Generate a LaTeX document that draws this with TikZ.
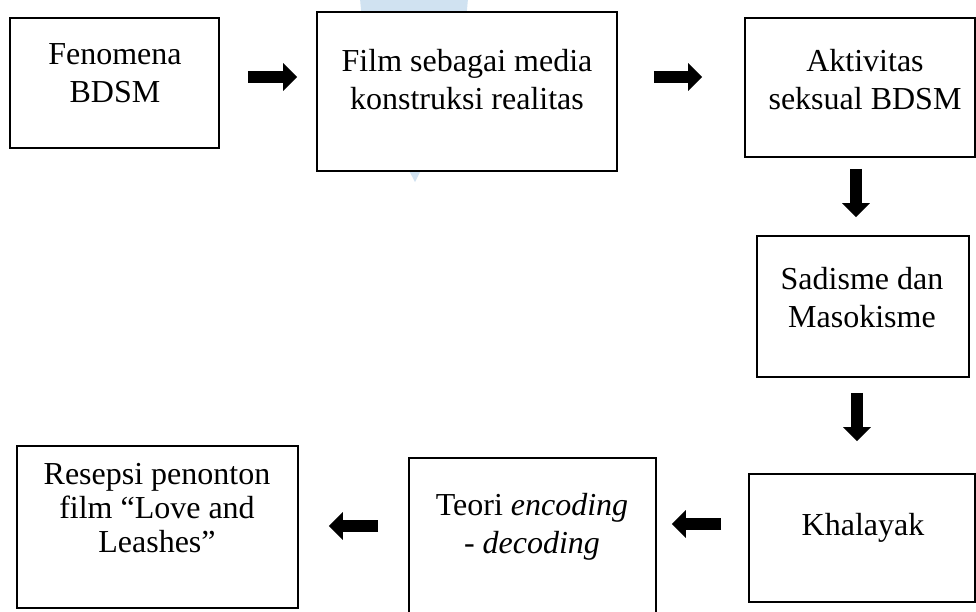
\documentclass[tikz,border=0pt]{standalone}
\usepackage{fontspec}
\setmainfont{Liberation Serif}
\usetikzlibrary{arrows.meta,calc}
\definecolor{wmark}{RGB}{208,226,241}
\tikzset{
  boxnode/.style={draw=black, line width=1.8pt, fill=white, inner sep=0pt, rectangle},
  txt/.style={align=center, inner sep=0pt, font=\fontsize{32}{38}\selectfont},
  blk/.style={line width=12pt, -{Triangle[length=14pt,width=27pt]}}
}
\begin{document}
\begin{tikzpicture}[x=1pt,y=-1pt]
\useasboundingbox (0,0) rectangle (976,611);
\clip (0,0) rectangle (976,611);
\fill[white] (0,0) rectangle (976,611);
% faint watermark
\fill[wmark] (360,-2) -- (468,-2) .. controls (462,80) and (432,150) .. (415,182) .. controls (398,150) and (366,80) .. cycle;
% boxes
\node[boxnode, minimum width=209pt, minimum height=130pt] (b1) at (114.5,83) {};
\node[boxnode, minimum width=300pt, minimum height=159pt] (b2) at (467,91.5) {};
\node[boxnode, minimum width=230pt, minimum height=139pt] (b3) at (860,87.5) {};
\node[boxnode, minimum width=212pt, minimum height=141pt] (b4) at (863,306.5) {};
\node[boxnode, minimum width=226pt, minimum height=128pt] (b5) at (862,538) {};
\node[boxnode, minimum width=247pt, minimum height=182pt] (b6) at (532.5,549) {};
\node[boxnode, minimum width=281pt, minimum height=162pt] (b7) at (157.5,527) {};
% texts
\node[txt] (t1) at (115,73) {Fenomena\\BDSM};
\node[txt] (t2) at (467,80) {Film sebagai media\\konstruksi realitas};
\node[txt] (t3) at (865,80) {Aktivitas\\seksual BDSM};
\node[txt] (t4) at (862,298) {Sadisme dan\\Masokisme};
\node[txt] (t5) at (863,527.5) {Khalayak};
\node[txt] (t6) at (532,527) {Teori \textit{encoding}\\- \textit{decoding}};
\node[txt, font=\fontsize{32}{34}\selectfont] (t7) at (157,508) {Resepsi penonton\\film \char"201C Love and\\Leashes\char"201D};
% arrows
\draw[blk] ($(b1.east)+(28,-6)$) -- ($(b2.west)+(-19,-14.5)$);
\draw[blk] ($(b2.east)+(36,-14.5)$) -- ($(b3.west)+(-42,-10.5)$);
\draw[blk] ($(b3.south)+(-4,11)$) -- ($(b4.north)+(-7,-18)$);
\draw[blk] ($(b4.south)+(-6,15)$) -- ($(b5.north)+(-5,-32)$);
\draw[blk] ($(b5.west)+(-27,-14)$) -- ($(b6.east)+(15,-25)$);
\draw[blk] ($(b6.west)+(-30,-23)$) -- ($(b7.east)+(30,-1)$);
\end{tikzpicture}
\end{document}
